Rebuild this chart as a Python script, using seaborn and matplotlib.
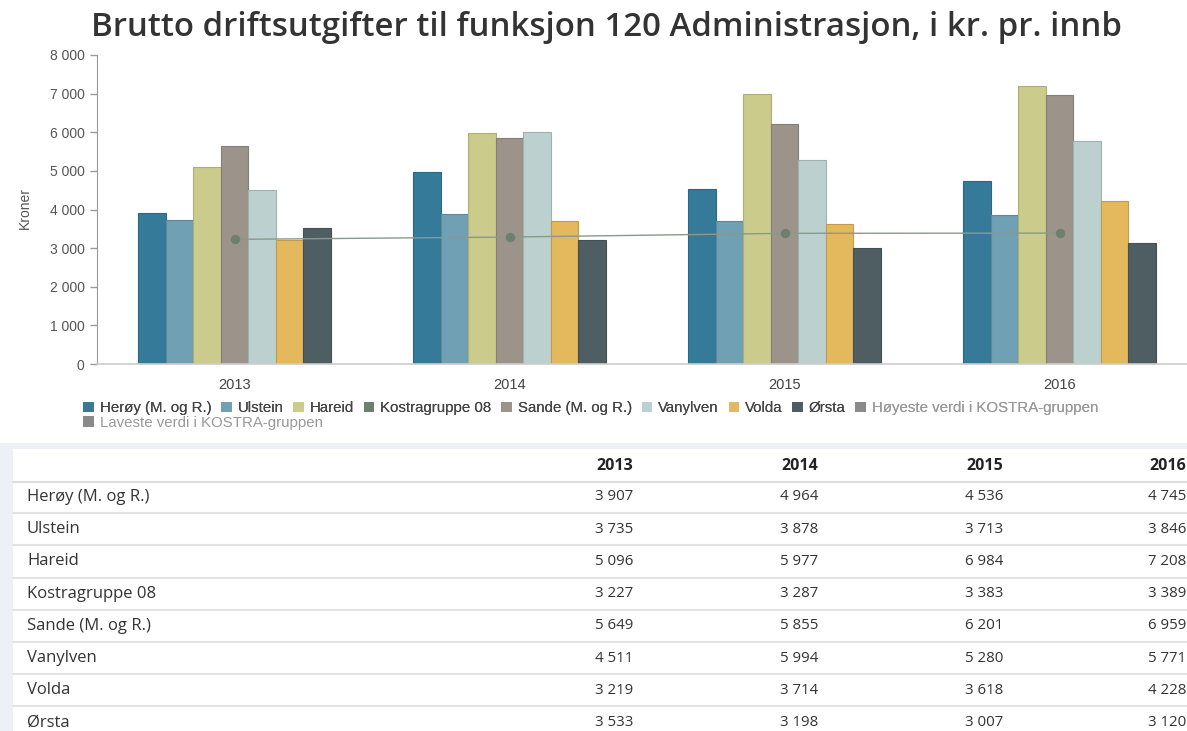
import numpy as np
import pandas as pd
import matplotlib
matplotlib.use("Agg")
import matplotlib.pyplot as plt
import matplotlib.colors as mcolors
from matplotlib.patches import Patch, Rectangle
from matplotlib.ticker import FuncFormatter
import seaborn as sns

# data
years = ["2013", "2014", "2015", "2016"]
herøy = [3907, 4964, 4536, 4745]
ulstein = [3735, 3878, 3713, 3846]
hareid = [5096, 5977, 6984, 7208]
kostra08 = [3227, 3287, 3383, 3389]
sande = [5649, 5855, 6201, 6959]
vanylven = [4511, 5994, 5280, 5771]
volda = [3219, 3714, 3618, 4228]
orsta = [3533, 3198, 3007, 3120]

bar_names = ["Herøy (M. og R.)", "Ulstein", "Hareid", "Sande (M. og R.)",
             "Vanylven", "Volda", "Ørsta"]
bar_values = [herøy, ulstein, hareid, sande, vanylven, volda, orsta]
bar_colors = ["#357a99", "#6fa0b3", "#cbcb8b", "#9c948a", "#bcd0d0", "#e4b85c", "#4f5e63"]
kostra_name = "Kostragruppe 08"
kostra_color = "#6d806f"

legend_names = ["Herøy (M. og R.)", "Ulstein", "Hareid", "Kostragruppe 08",
                "Sande (M. og R.)", "Vanylven", "Volda", "Ørsta",
                "Høyeste verdi i KOSTRA-gruppen", "Laveste verdi i KOSTRA-gruppen"]
legend_colors = ["#357a99", "#6fa0b3", "#cbcb8b", "#6d806f", "#9c948a",
                 "#bcd0d0", "#e4b85c", "#4f5e63", "#8a8a8a", "#8a8a8a"]

table_rows = ["Herøy (M. og R.)", "Ulstein", "Hareid", "Kostragruppe 08",
              "Sande (M. og R.)", "Vanylven", "Volda", "Ørsta"]
table_values = [herøy, ulstein, hareid, kostra08, sande, vanylven, volda, orsta]

df = pd.DataFrame([(n, y, v) for n, vals in zip(bar_names, bar_values)
                   for y, v in zip(years, vals)], columns=["kommune", "aar", "kroner"])
df_k = pd.DataFrame({"aar": years, "kroner": kostra08})

sns.set_style("white")
plt.rcParams["font.family"] = ["Liberation Sans", "DejaVu Sans"]

W, H = 1187, 731
fig = plt.figure(figsize=(W / 100, H / 100), dpi=100)

# background / table layer in pixel coordinates
bg = fig.add_axes([0, 0, 1, 1], zorder=0)
bg.set_xlim(0, W)
bg.set_ylim(H, 0)
bg.axis("off")

ax = fig.add_axes([97 / W, 1 - 364 / H, 1100 / W, 309 / H], zorder=2)
ax.patch.set_alpha(0)

sns.barplot(data=df, x="aar", y="kroner", hue="kommune", hue_order=bar_names,
            order=years, palette=bar_colors, width=0.7, gap=0, ax=ax,
            saturation=1, legend=False, errorbar=None)
for bar in ax.patches:
    fc = mcolors.to_rgb(bar.get_facecolor())
    bar.set_edgecolor(tuple(c * 0.85 for c in fc))
    bar.set_linewidth(0.8)

sns.pointplot(data=df_k, x="aar", y="kroner", order=years, color=kostra_color,
              markers="o", markersize=6, linewidth=1, ax=ax)
for ln in ax.lines:
    ln.set_zorder(5)
    ln.set_color("#8a998b")
    ln.set_markerfacecolor(kostra_color)
    ln.set_markeredgecolor(kostra_color)
for coll in ax.collections:
    coll.set_zorder(6)
    coll.set_facecolor(kostra_color)
    coll.set_edgecolor(kostra_color)

ax.set_xlim(-0.5, len(years) - 0.5)
ax.set_ylim(0, 8000)
ax.set_yticks(np.arange(0, 8001, 1000))
ax.yaxis.set_major_formatter(FuncFormatter(lambda v, p: f"{int(v):,}".replace(",", " ")))
ax.set_xticks(np.arange(len(years) - 1) + 0.5)
ax.set_xticklabels([])
ax.set_xticks(np.arange(len(years)), minor=True)
ax.set_xticklabels(years, minor=True)
ax.tick_params(axis="x", which="major", length=5, width=1, color="#cccccc", direction="out")
ax.tick_params(axis="x", which="minor", length=0, pad=10, labelsize=10.5, labelcolor="#444444")
ax.tick_params(axis="y", length=5, width=1, color="#999999", labelsize=10,
               labelcolor="#555555", pad=4, left=True)
ax.set_xlabel("")
ax.set_ylabel("")
for s in ["top", "right"]:
    ax.spines[s].set_visible(False)
ax.spines["left"].set_color("#999999")
ax.spines["bottom"].set_color("#cccccc")
ax.spines["bottom"].set_linewidth(1.2)

fig.text(25 / W, 1 - 208 / H, "Kroner", rotation=90, ha="center", va="center",
         fontsize=10, color="#555555")

fig.text(607 / W, 1 - 27 / H, "Brutto driftsutgifter til funksjon 120 Administrasjon, i kr. pr. innb",
         ha="center", va="center", fontsize=23.8, fontfamily="Open Sans",
         fontweight="semibold", color="#333333")

# legend
handles = [Patch(facecolor=c, edgecolor="none") for c in legend_colors]
leg1 = fig.legend(handles[:9], legend_names[:9], loc="center left",
                  bbox_to_anchor=(83 / W, 1 - 408 / H), ncol=9, frameon=False,
                  fontsize=10.8, handlelength=0.7, handleheight=0.7,
                  handletextpad=0.4, columnspacing=0.65, borderpad=0, borderaxespad=0)
leg2 = fig.legend(handles[9:], legend_names[9:], loc="center left",
                  bbox_to_anchor=(83 / W, 1 - 423 / H), ncol=1, frameon=False,
                  fontsize=10.8, handlelength=0.7, handleheight=0.7,
                  handletextpad=0.4, borderpad=0, borderaxespad=0)
fig.add_artist(leg1)
for t in leg1.get_texts()[:8]:
    t.set_color("#444444")
leg1.get_texts()[8].set_color("#999999")
leg2.get_texts()[0].set_color("#999999")

# table
bg.add_patch(Rectangle((0, 443), W, 6, color="#edf1f7", lw=0))
bg.add_patch(Rectangle((0, 443), 13, H - 443, color="#edf1f7", lw=0))
col_x = [633, 818, 1003, 1186]
row_h = 32.2
header_y = 466
for x, yr in zip(col_x, years):
    bg.text(x, header_y, yr, ha="right", va="center", fontsize=11.5,
            fontfamily="Open Sans", fontweight="bold", color="#222222")
bg.plot([13, W], [482, 482], color="#dcdcdc", lw=1.5)
for i, (name, vals) in enumerate(zip(table_rows, table_values)):
    yc = 497 + i * row_h
    bg.text(27, yc, name, ha="left", va="center", fontsize=12,
            fontfamily="Open Sans", color="#333333")
    for x, v in zip(col_x, vals):
        bg.text(x, yc, f"{v:,}".replace(",", " "), ha="right", va="center",
                fontsize=10.8, fontfamily="Open Sans", color="#333333")
    if i < len(table_rows) - 1:
        bg.plot([13, W], [yc + row_h / 2, yc + row_h / 2], color="#e2e2e2", lw=1.5)

fig.savefig("out.png", dpi=100)
